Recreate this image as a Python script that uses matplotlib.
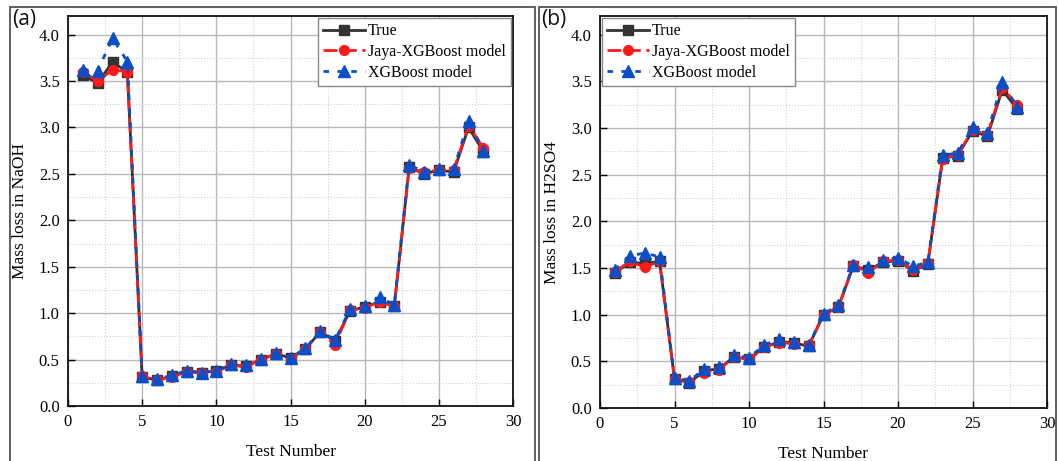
import matplotlib
matplotlib.use("Agg")
import matplotlib.pyplot as plt
from matplotlib.patches import Rectangle
from matplotlib.ticker import MultipleLocator

tests = list(range(1, 29))

naoh_true = [3.56, 3.48, 3.70, 3.60, 0.31, 0.28, 0.32, 0.37, 0.36, 0.38, 0.44, 0.43, 0.50, 0.56,
             0.52, 0.61, 0.80, 0.70, 1.02, 1.07, 1.12, 1.08, 2.57, 2.50, 2.54, 2.52, 3.00, 2.74]
naoh_jaya = [3.60, 3.50, 3.62, 3.60, 0.32, 0.28, 0.31, 0.37, 0.36, 0.37, 0.44, 0.42, 0.50, 0.56,
             0.51, 0.61, 0.80, 0.66, 1.03, 1.06, 1.12, 1.08, 2.56, 2.52, 2.54, 2.54, 3.02, 2.78]
naoh_xgb = [3.62, 3.61, 3.96, 3.71, 0.32, 0.29, 0.33, 0.38, 0.36, 0.38, 0.45, 0.44, 0.51, 0.57,
            0.52, 0.62, 0.81, 0.71, 1.04, 1.08, 1.17, 1.09, 2.60, 2.52, 2.55, 2.55, 3.07, 2.75]

h2so4_true = [1.45, 1.56, 1.55, 1.57, 0.31, 0.27, 0.40, 0.42, 0.55, 0.52, 0.65, 0.71, 0.70, 0.66,
              1.00, 1.08, 1.52, 1.48, 1.56, 1.58, 1.47, 1.54, 2.68, 2.70, 2.97, 2.91, 3.41, 3.20]
h2so4_jaya = [1.46, 1.57, 1.51, 1.57, 0.31, 0.28, 0.38, 0.41, 0.55, 0.52, 0.65, 0.70, 0.69, 0.67,
              1.00, 1.08, 1.53, 1.45, 1.57, 1.59, 1.48, 1.55, 2.67, 2.71, 2.98, 2.93, 3.43, 3.25]
h2so4_xgb = [1.48, 1.63, 1.66, 1.62, 0.32, 0.29, 0.42, 0.44, 0.57, 0.54, 0.67, 0.74, 0.71, 0.67,
             1.01, 1.10, 1.53, 1.51, 1.59, 1.61, 1.52, 1.56, 2.71, 2.73, 3.01, 2.95, 3.49, 3.22]

series_labels = ["True", "Jaya-XGBoost model", "XGBoost model"]
ylabels = ["Mass loss in NaOH", "Mass loss in H2SO4"]
panel_labels = ["(a)", "(b)"]

plt.rcParams['font.family'] = ['Liberation Serif', 'DejaVu Serif']

W, H = 1059, 461
fig = plt.figure(figsize=(W / 100, H / 100), dpi=100)

def fx(px):
    return px / W

def fy(py):
    return 1 - py / H

# panel frames
for x0, x1 in [(10, 535), (539, 1056)]:
    fig.patches.append(Rectangle((fx(x0), fy(470)), fx(x1) - fx(x0), fy(7) - fy(470),
                                 transform=fig.transFigure, fill=False, edgecolor='#444444',
                                 linewidth=1.2, clip_on=False))

ax_pos = [(68, 513, 16, 406), (600, 1047, 16, 408)]
legend_loc = ["upper right", "upper left"]
data = [(naoh_true, naoh_jaya, naoh_xgb), (h2so4_true, h2so4_jaya, h2so4_xgb)]
label_x = [12, 541]

for i in range(2):
    l, r, t, b = ax_pos[i]
    ax = fig.add_axes([fx(l), fy(b), fx(r) - fx(l), fy(t) - fy(b)])
    tr, jy, xg = data[i]
    ax.plot(tests, tr, color='#333333', lw=2.0, marker='s', ms=6.5, label=series_labels[0], zorder=3)
    ax.plot(tests, jy, color='#ff1a1a', lw=2.0, ls=(0, (5, 2)), marker='o', ms=7,
            label=series_labels[1], zorder=4)
    ax.plot(tests, xg, color='#0a4fc8', lw=2.0, ls=(0, (2, 3)), marker='^', ms=8.5,
            label=series_labels[2], zorder=5)
    ax.set_xlim(0, 30)
    ax.set_ylim(0, 4.2)
    ax.xaxis.set_major_locator(MultipleLocator(5))
    ax.xaxis.set_minor_locator(MultipleLocator(2.5))
    ax.yaxis.set_major_locator(MultipleLocator(0.5))
    ax.yaxis.set_minor_locator(MultipleLocator(0.25))
    ax.yaxis.set_major_formatter(matplotlib.ticker.FormatStrFormatter('%.1f'))
    ax.grid(which='major', color='#b8b8b8', lw=1.0, ls='-')
    ax.grid(which='minor', color='#d0d0d0', lw=0.8, ls=':')
    ax.tick_params(which='major', direction='in', length=5, width=1, labelsize=12, pad=6)
    ax.tick_params(which='minor', length=0)
    for s in ax.spines.values():
        s.set_linewidth(1.3)
        s.set_color('#111111')
    ax.set_xlabel("Test Number", fontsize=12.5, labelpad=10)
    ax.set_ylabel(ylabels[i], fontsize=12.5, labelpad=8)
    leg = ax.legend(loc=legend_loc[i], fontsize=11.5, frameon=True, fancybox=False,
                    edgecolor='#888888', framealpha=1, handlelength=2.6, handletextpad=0.2,
                    borderpad=0.3, labelspacing=0.3, borderaxespad=0.15)
    leg.get_frame().set_linewidth(1.0)
    fig.text(fx(label_x[i]), fy(20), panel_labels[i], fontsize=15, family=['Open Sans', 'DejaVu Sans'],
             ha='left', va='center', color='#111111')

fig.savefig("out.png", dpi=100, facecolor='white')
